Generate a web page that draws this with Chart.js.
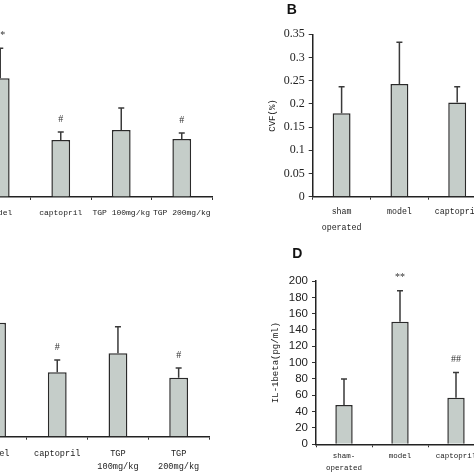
<!DOCTYPE html>
<html><head><meta charset="utf-8">
<script src="https://cdn.jsdelivr.net/npm/chart.js@4.4.1/dist/chart.umd.min.js"></script>
<style>
html,body{margin:0;padding:0;background:#fff;}
#wrap{position:relative;width:474px;height:474px;overflow:hidden;background:#fff;}
canvas{position:absolute;}
.lab{position:absolute;font:bold 14px "Liberation Sans",Arial,sans-serif;line-height:14px;color:#111;}
</style></head><body>
<div id="wrap">
<canvas id="cA" width="442" height="240" style="left:-200px;top:0px"></canvas>
<canvas id="cB" width="400" height="240" style="left:240px;top:0px"></canvas>
<canvas id="cC" width="439" height="234" style="left:-200px;top:240px"></canvas>
<canvas id="cD" width="400" height="234" style="left:240px;top:240px"></canvas>
<div class="lab" style="left:286.7px;top:2.3px">B</div>
<div class="lab" style="left:292.3px;top:245.6px">D</div>
</div>
<script>
// ---- Panel A ----
const categoriesA = ['sham operated', 'model', 'captopril', 'TGP 100mg/kg', 'TGP 200mg/kg'];
const valuesA = [1.55, 3.60, 1.73, 2.03, 1.76];
const errorsA = [0.25, 0.91, 0.24, 0.67, 0.18];
const marksA = ['', '**', '#', '', '#'];
const yTicksA = [0, 1, 2, 3, 4, 5];

// ---- Panel B ----
const categoriesB = [['sham', 'operated'], 'model', 'captopril', ['TGP', '100mg/kg'], ['TGP', '200mg/kg']];
const valuesB = [0.18, 0.243, 0.203, 0.21, 0.195];
const errorsB = [0.057, 0.09, 0.034, 0.04, 0.035];
const marksB = ['', '', '', '', ''];
const yTicksB = [0, 0.05, 0.1, 0.15, 0.2, 0.25, 0.3, 0.35];
const yTickLabelsB = ['0', '0.05', '0.1', '0.15', '0.2', '0.25', '0.3', '0.35'];

// ---- Panel C ----
const categoriesC = [['sham', 'operated'], 'model', 'captopril', ['TGP', '100mg/kg'], ['TGP', '200mg/kg']];
const valuesC = [2.2, 4.56, 2.58, 3.34, 2.36];
const errorsC = [0.4, 0.8, 0.49, 1.06, 0.39];
const marksC = ['', '', '#', '', '#'];
const yTicksC = [0, 1, 2, 3, 4, 5, 6, 7];

// ---- Panel D ----
const categoriesD = [['sham-', 'operated'], 'model', 'captopril', ['TGP', '100mg/kg'], ['TGP', '200mg/kg']];
const valuesD = [48, 150, 57, 75, 62];
const errorsD = [32, 38, 31, 30, 25];
const marksD = ['', '**', '##', '#', '##'];
const yTicksD = [0, 20, 40, 60, 80, 100, 120, 140, 160, 180, 200];

const errorPlugin = {
  id: 'errs',
  afterDatasetsDraw(chart) {
    const ds = chart.data.datasets[0];
    const meta = chart.getDatasetMeta(0);
    const ys = chart.scales.y;
    const ctx = chart.ctx;
    ctx.save();
    ctx.strokeStyle = '#3a3a3a';
    ctx.lineWidth = 1.5;
    ctx.fillStyle = '#333';
    ctx.font = '10px "Liberation Serif", serif';
    ctx.textAlign = 'center';
    ctx.textBaseline = 'middle';
    meta.data.forEach((bar, i) => {
      const top = ys.getPixelForValue(ds.data[i] + ds.errors[i]);
      const x = bar.x;
      ctx.beginPath();
      ctx.moveTo(x, bar.y);
      ctx.lineTo(x, top);
      ctx.moveTo(x - 3, top);
      ctx.lineTo(x + 3, top);
      ctx.stroke();
      if (ds.marks[i]) ctx.fillText(ds.marks[i], x, top - 13);
    });
    ctx.restore();
  }
};

function build(id, p) {
  return new Chart(document.getElementById(id), {
    type: 'bar',
    data: {
      labels: p.labels,
      datasets: [{
        data: p.values,
        errors: p.errors,
        marks: p.marks,
        backgroundColor: '#c5cdc9',
        borderColor: '#2a2a2a',
        borderWidth: 1.5,
        barPercentage: 0.31,
        categoryPercentage: 1.0
      }]
    },
    options: {
      responsive: false,
      animation: false,
      devicePixelRatio: 1,
      layout: { padding: p.padding },
      plugins: { legend: { display: false }, tooltip: { enabled: false } },
      scales: {
        x: {
          offset: true,
          afterFit: s => { s.height = p.xHeight; },
          border: { display: true, color: '#222', width: 1.5 },
          grid: { display: true, drawOnChartArea: false, drawTicks: true, tickLength: 3, color: '#333', lineWidth: 1, offset: true },
          ticks: {
            autoSkip: false, maxRotation: 0, minRotation: 0,
            padding: p.xPad, color: '#222',
            font: { family: '"Liberation Mono", monospace', size: p.xSize, lineHeight: p.xLh }
          }
        },
        y: {
          min: 0, max: p.yTicks[p.yTicks.length - 1],
          afterFit: s => { s.width = p.yWidth; },
          afterBuildTicks: s => { s.ticks = p.yTicks.map(v => ({ value: v })); },
          border: { display: true, color: '#222', width: 1.5 },
          grid: { display: true, drawOnChartArea: false, drawTicks: true, tickLength: 4, color: '#333', lineWidth: 1 },
          ticks: {
            autoSkip: false,
            padding: 4, color: '#222',
            font: p.yFont,
            callback: (v, i) => p.yLabels ? p.yLabels[i] : String(v)
          },
          title: p.yTitle ? {
            display: true, text: p.yTitle, color: '#222',
            font: { family: '"Liberation Mono", monospace', size: 9, lineHeight: 1.2 },
            padding: { top: p.titlePad, bottom: 0 }
          } : { display: false }
        }
      }
    },
    plugins: [errorPlugin]
  });
}

build('cA', {
  labels: categoriesA, values: valuesA, errors: errorsA, marks: marksA,
  yTicks: yTicksA, yWidth: 109.5, xHeight: 43,
  padding: { top: 32, right: 30, bottom: 0, left: 0 },
  xPad: 7, xSize: 8, xLh: 1.5,
  yFont: { family: '"Liberation Serif", serif', size: 11 }
});

build('cB', {
  labels: categoriesB, values: valuesB, errors: errorsB, marks: marksB,
  yTicks: yTicksB, yLabels: yTickLabelsB, yWidth: 72.7, xHeight: 43.3,
  padding: { top: 34.3, right: 38.3, bottom: 0, left: 0 },
  xPad: 4, xSize: 8.3, xLh: 1.9,
  yFont: { family: '"Liberation Serif", serif', size: 12 },
  yTitle: 'CVF(%)', titlePad: 27.6
});

build('cC', {
  labels: categoriesC, values: valuesC, errors: errorsC, marks: marksC,
  yTicks: yTicksC, yWidth: 105.5, xHeight: 37.3,
  padding: { top: 21.7, right: 30, bottom: 0, left: 0 },
  xPad: 7, xSize: 8.6, xLh: 1.56,
  yFont: { family: '"Liberation Serif", serif', size: 11 }
});

build('cD', {
  labels: categoriesD, values: valuesD, errors: errorsD, marks: marksD,
  yTicks: yTicksD, yWidth: 76, xHeight: 29.7,
  padding: { top: 41, right: 44, bottom: 0, left: 0 },
  xPad: 2, xSize: 7.5, xLh: 1.7,
  yFont: { family: '"Liberation Sans", Arial, sans-serif', size: 11.5 },
  yTitle: 'IL-1beta(pg/ml)', titlePad: 30.6
});
</script>
</body></html>
